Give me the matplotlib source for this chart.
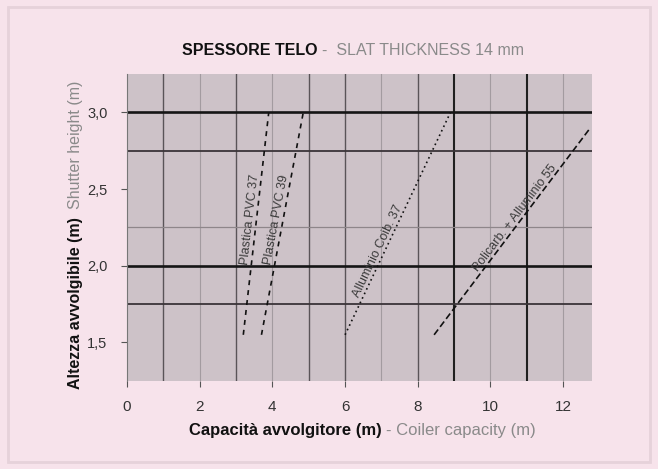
import matplotlib
matplotlib.use("Agg")
import matplotlib.pyplot as plt
import numpy as np
from matplotlib.patches import Rectangle

plt.rcParams['font.family'] = ['Liberation Sans', 'DejaVu Sans']

# ---- data ----
series_names = ["Plastica PVC 37", "Plastica PVC 39", "Alluminio Coib. 37", "Policarb. + Alluminio 55"]
series_x = [[3.2, 3.9], [3.7, 4.85], [6.0, 8.9], [8.45, 12.75]]
series_y = [[1.55, 3.0], [1.55, 3.0], [1.55, 3.0], [1.55, 2.9]]
series_styles = [(0, (3, 3)), (0, (3, 3)), (0, (1, 2)), (0, (4, 2))]
label_at = [2.0, 2.0, 1.78, 1.95]

x_ticks = [0, 2, 4, 6, 8, 10, 12]
x_ticklabels = ["0", "2", "4", "6", "8", "10", "12"]
y_ticks = [1.5, 2.0, 2.5, 3.0]
y_ticklabels = ["1,5", "2,0", "2,5", "3,0"]

vgrid_strong = [9, 11]
vgrid_medium = [1, 3, 5, 6, 8]
vgrid_faint = [2, 4, 7, 10, 12]
hgrid_strong = [2.0, 3.0]
hgrid_medium = [1.75, 2.75]
hgrid_faint = [2.25]

fig = plt.figure(figsize=(6.58, 4.69), dpi=100)
fig.patch.set_facecolor('#f7e3eb')
ax = fig.add_axes([0.193, 0.188, 0.707, 0.654])
ax.set_facecolor('#cdc2c8')
ax.set_xlim(0, 12.8)
ax.set_ylim(1.25, 3.25)

for v in vgrid_faint:
    ax.axvline(v, color='#a39ba0', lw=0.8, zorder=1)
for v in vgrid_medium:
    ax.axvline(v, color='#5a5458', lw=1.0, zorder=1)
for v in vgrid_strong:
    ax.axvline(v, color='#202020', lw=1.5, zorder=1)
for h in hgrid_faint:
    ax.axhline(h, color='#8e868a', lw=0.9, zorder=1)
for h in hgrid_medium:
    ax.axhline(h, color='#3a3438', lw=1.3, zorder=1)
for h in hgrid_strong:
    ax.axhline(h, color='#151515', lw=1.9, zorder=1)

for name, xs, ys, ls, ly in zip(series_names, series_x, series_y, series_styles, label_at):
    ax.plot(xs, ys, color='#111111', lw=1.2, linestyle=ls, zorder=3)
    ang = np.degrees(np.arctan2(ys[1] - ys[0], xs[1] - xs[0]))
    t = (ly - ys[0]) / (ys[1] - ys[0])
    lx = xs[0] + t * (xs[1] - xs[0])
    ax.text(lx, ly, name, rotation=ang, transform_rotates_text=True,
            rotation_mode='anchor', ha='left', va='bottom', fontsize=9,
            color='#3a3a3a', zorder=4)

ax.set_xticks(x_ticks)
ax.set_xticklabels(x_ticklabels, fontsize=11, color='#333333')
ax.set_yticks(y_ticks)
ax.set_yticklabels(y_ticklabels, fontsize=10.5, color='#333333')
ax.tick_params(axis='x', length=4, color='#555555', pad=10)
ax.tick_params(axis='y', length=4, color='#555555', pad=10)
for s in ax.spines.values():
    s.set_visible(False)
ax.spines['left'].set_visible(True)
ax.spines['left'].set_color('#777777')

# title (two-tone)
fig.text(0.482, 0.893, "SPESSORE TELO", ha='right', va='center', fontsize=11.5,
         fontweight='bold', color='#111111')
fig.text(0.49, 0.893, "-  SLAT THICKNESS 14 mm", ha='left', va='center', fontsize=11.5,
         color='#8a8a8a')

# x label (two-tone)
fig.text(0.58, 0.083, "Capacità avvolgitore (m)", ha='right', va='center', fontsize=12,
         fontweight='bold', color='#111111')
fig.text(0.586, 0.083, "- Coiler capacity (m)", ha='left', va='center', fontsize=12,
         color='#8a8a8a')

# y label (two-tone)
fig.text(0.114, 0.17, "Altezza avvolgibile (m)", ha='center', va='bottom', rotation=90,
         fontsize=11.5, fontweight='bold', color='#111111')
fig.text(0.114, 0.555, "Shutter height (m)", ha='center', va='bottom', rotation=90,
         fontsize=11.5, color='#8a8a8a')

fig.patches.append(Rectangle((0.012, 0.015), 0.976, 0.97, transform=fig.transFigure,
                             fill=False, edgecolor='#e6d2da', lw=2))

fig.savefig("out.png", dpi=100, facecolor=fig.get_facecolor())
